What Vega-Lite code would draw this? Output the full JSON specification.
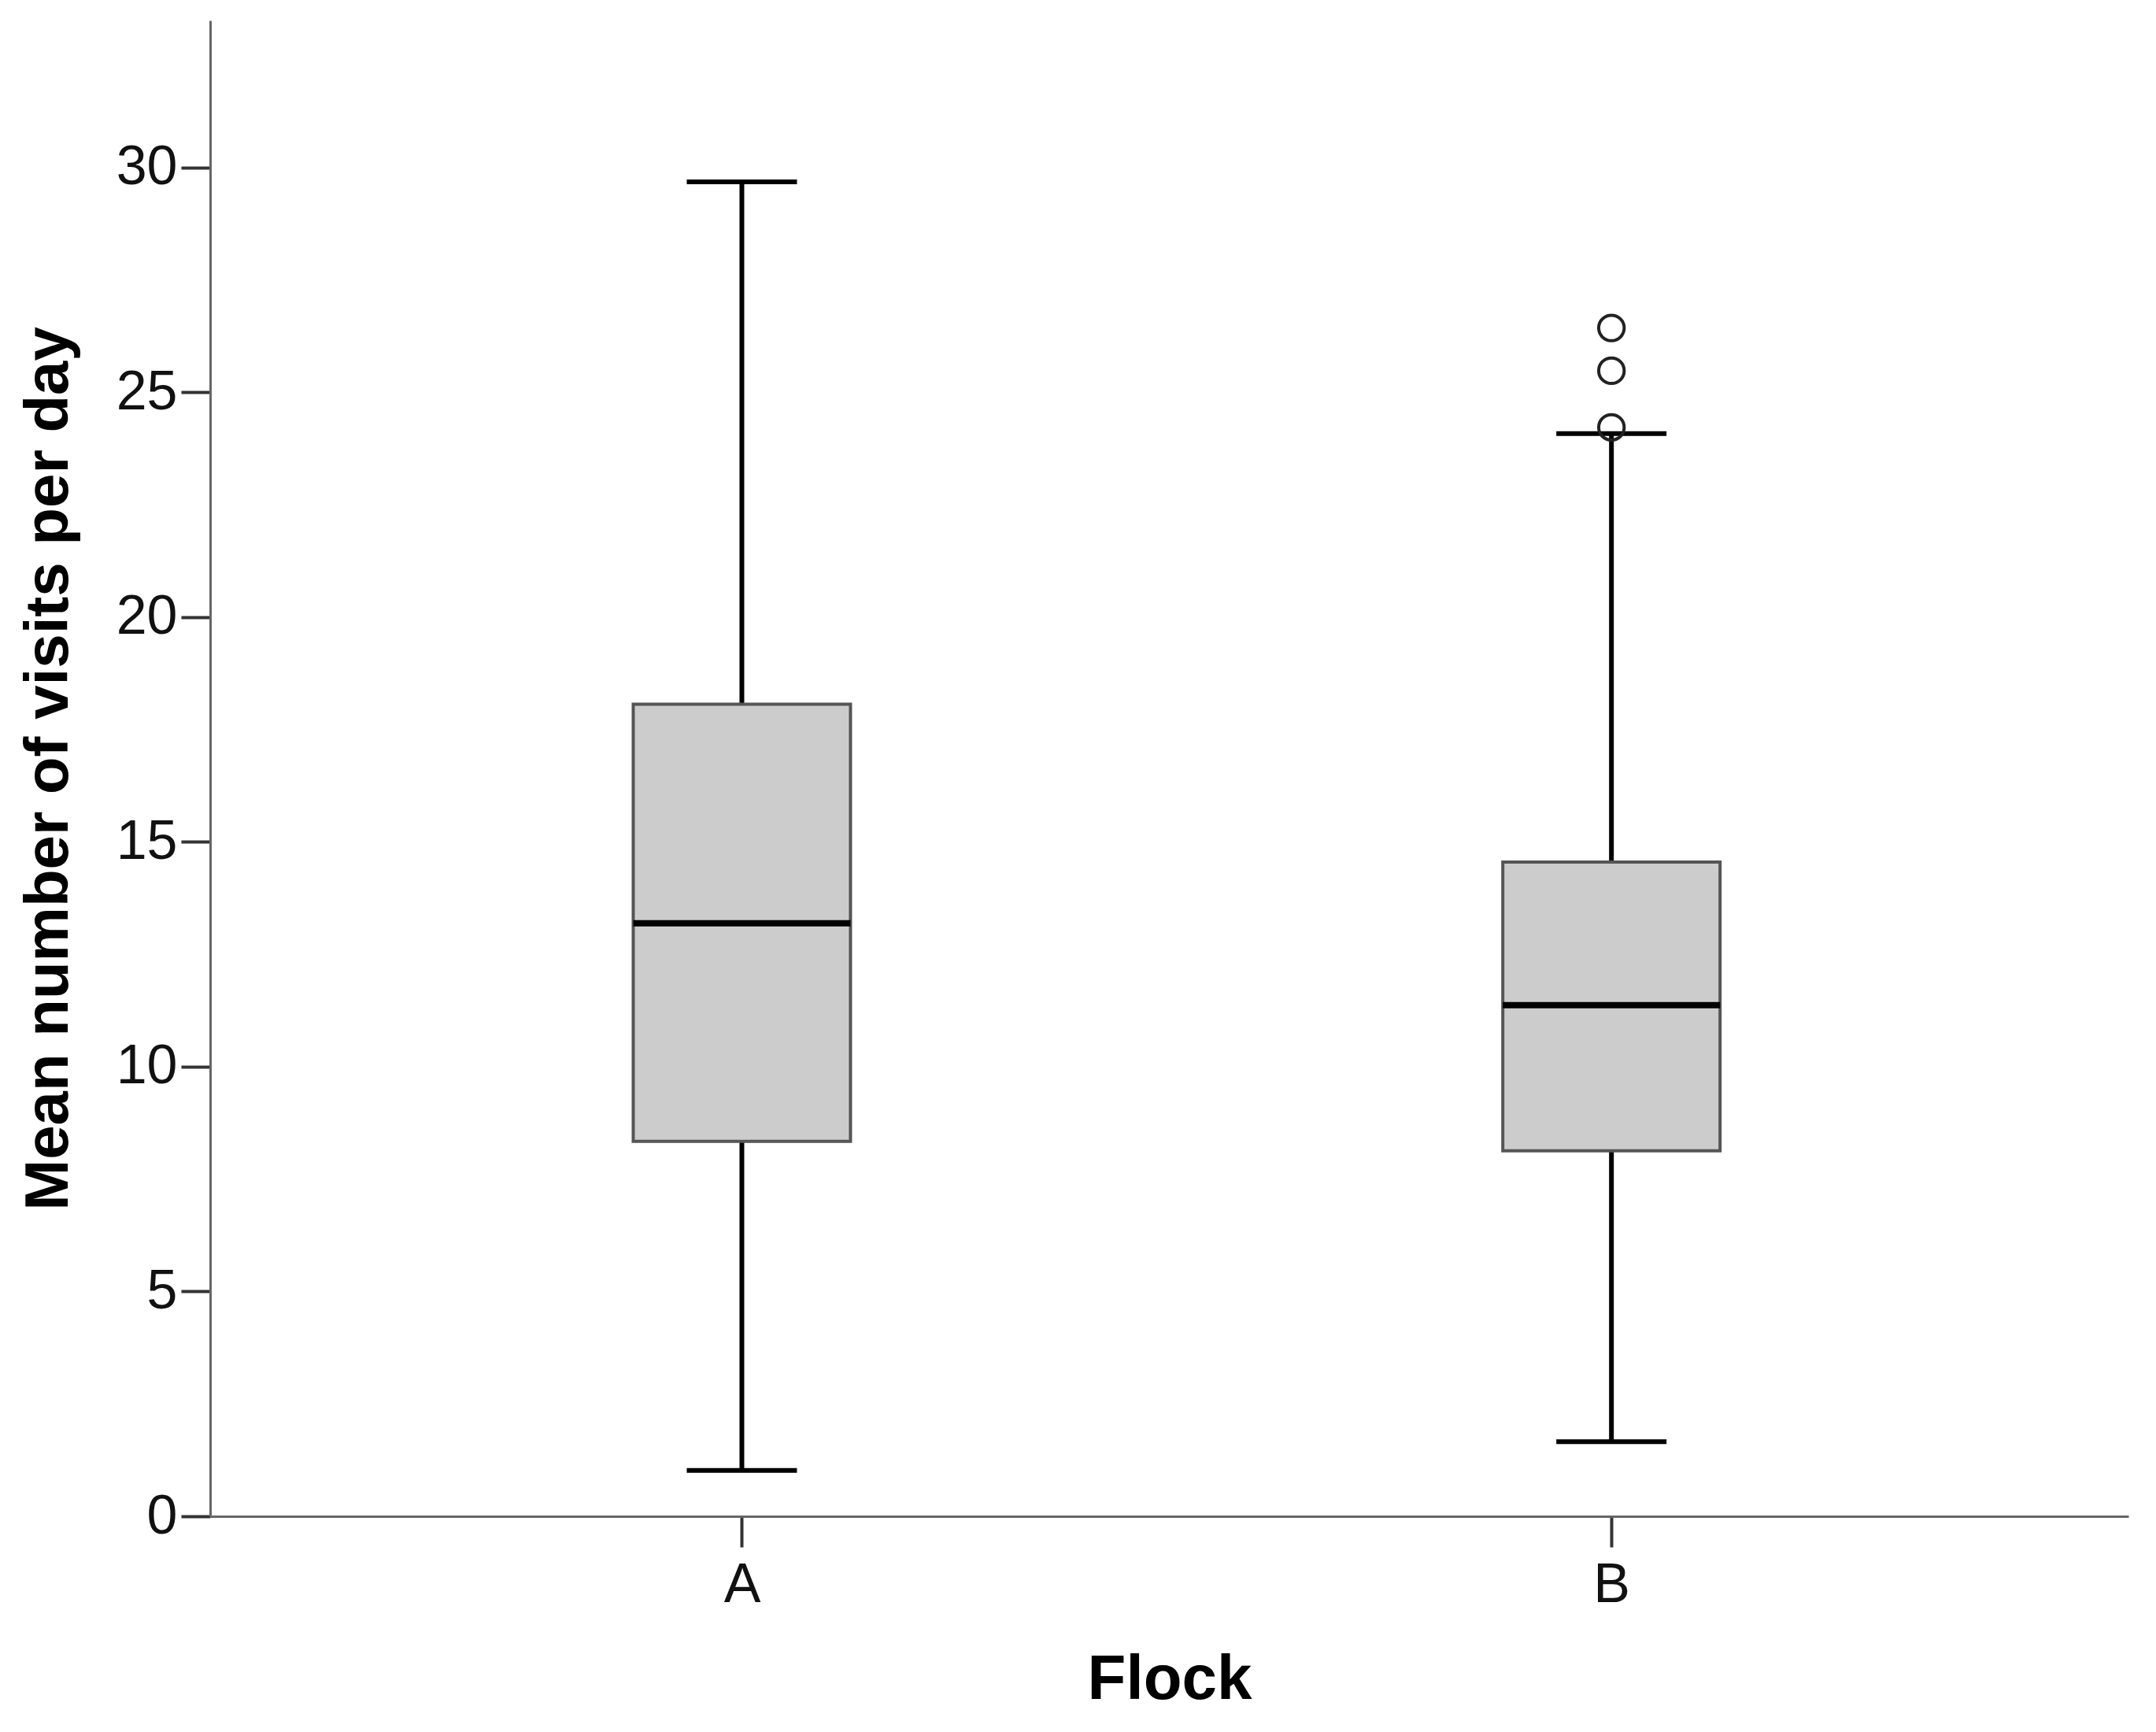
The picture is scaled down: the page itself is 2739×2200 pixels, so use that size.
{
  "$schema": "https://vega.github.io/schema/vega-lite/v6.json",
  "autosize": "none",
  "padding": {"left": 267, "top": 26, "right": 35, "bottom": 274},
  "width": 2437,
  "height": 1900,
  "background": "white",
  "config": {"view": {"stroke": null}},
  "datasets": {
    "boxes": [
      {"Flock": "A", "low": 1.02, "q1": 8.34, "median": 13.19, "q3": 18.06, "high": 29.68},
      {"Flock": "B", "low": 1.66, "q1": 8.13, "median": 11.37, "q3": 14.55, "high": 24.08}
    ],
    "outliers": [
      {"Flock": "B", "value": 24.22},
      {"Flock": "B", "value": 25.48},
      {"Flock": "B", "value": 26.43}
    ]
  },
  "encoding": {
    "x": {
      "field": "Flock",
      "type": "nominal",
      "scale": {"type": "point", "padding": 0.603, "align": 0.507, "domain": ["A", "B"]},
      "axis": {
        "title": "Flock",
        "labelAngle": 0,
        "labelFont": "Liberation Sans",
        "labelFontSize": 70,
        "labelColor": "#111111",
        "labelPadding": 14,
        "titleFont": "Liberation Sans",
        "titleFontWeight": "bold",
        "titleFontSize": 80,
        "titleColor": "#000000",
        "titlePadding": 46,
        "domainColor": "#666666",
        "domainWidth": 3,
        "tickColor": "#333333",
        "tickWidth": 4,
        "tickSize": 39,
        "grid": false
      }
    }
  },
  "layer": [
    {
      "data": {"name": "boxes"},
      "mark": {"type": "rule", "color": "#000000", "strokeWidth": 6},
      "encoding": {
        "y": {
          "field": "low",
          "type": "quantitative",
          "scale": {"domain": [0, 33.27], "nice": false, "zero": false},
          "axis": {
            "title": "Mean number of visits per day",
            "values": [0, 5, 10, 15, 20, 25, 30],
            "format": "d",
            "labelFont": "Liberation Sans",
            "labelFontSize": 70,
            "labelColor": "#111111",
            "labelPadding": 5,
            "titleFont": "Liberation Sans",
            "titleFontWeight": "bold",
            "titleFontSize": 78,
            "titleColor": "#000000",
            "titlePadding": 46,
            "domainColor": "#666666",
            "domainWidth": 3,
            "tickColor": "#333333",
            "tickWidth": 4,
            "tickSize": 37,
            "grid": false
          }
        },
        "y2": {"field": "high"}
      }
    },
    {
      "data": {"name": "boxes"},
      "mark": {"type": "bar", "size": 276, "fill": "#cccccc", "stroke": "#555555", "strokeWidth": 4},
      "encoding": {
        "y": {"field": "q1", "type": "quantitative"},
        "y2": {"field": "q3"}
      }
    },
    {
      "data": {"name": "boxes"},
      "mark": {"type": "tick", "size": 276, "thickness": 8, "color": "#000000", "opacity": 1},
      "encoding": {
        "y": {"field": "median", "type": "quantitative"}
      }
    },
    {
      "data": {"name": "boxes"},
      "mark": {"type": "tick", "size": 140, "thickness": 6, "color": "#000000", "opacity": 1},
      "encoding": {
        "y": {"field": "low", "type": "quantitative"}
      }
    },
    {
      "data": {"name": "boxes"},
      "mark": {"type": "tick", "size": 140, "thickness": 6, "color": "#000000", "opacity": 1},
      "encoding": {
        "y": {"field": "high", "type": "quantitative"}
      }
    },
    {
      "data": {"name": "outliers"},
      "mark": {"type": "point", "shape": "circle", "size": 1050, "filled": false, "stroke": "#222222", "strokeWidth": 4, "opacity": 1},
      "encoding": {
        "y": {"field": "value", "type": "quantitative"}
      }
    }
  ]
}
